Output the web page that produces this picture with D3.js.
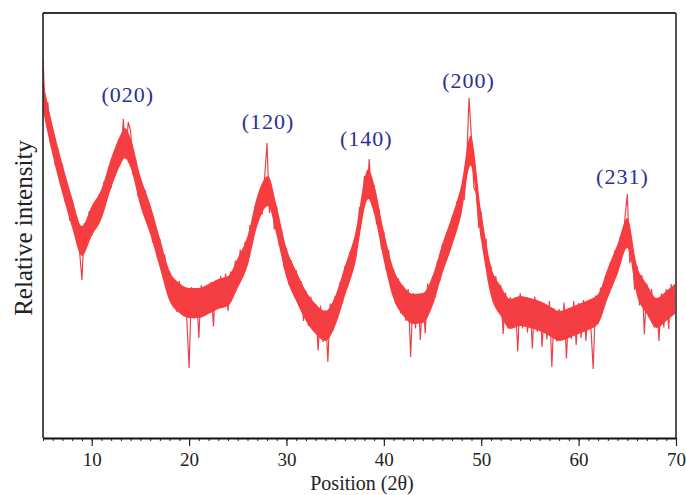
<!DOCTYPE html>
<html>
<head>
<meta charset="utf-8">
<script src="https://cdn.jsdelivr.net/npm/d3@7"></script>
<style>
  html, body { margin: 0; padding: 0; background: #ffffff; }
  svg { display: block; }
</style>
</head>
<body>
<svg id="chart" width="686" height="495"></svg>
<script>
// XRD scan: recorded counts every 0.25 degrees of 2-theta, from 5 to 70
const scanStart = 5;
const scanStep = 0.25;
const scanCounts = [
  760, 640, 672, 590, 616, 545, 582, 513, 548, 473, 502, 435, 476, 412, 442, 374,
  316, 430, 394, 454, 404, 466, 429, 487, 442, 513, 475, 536, 500, 570, 534, 596,
  552, 638, 558, 632, 614, 526, 560, 484, 518, 454, 496, 430, 464, 391, 426, 359,
  398, 330, 367, 295, 334, 268, 318, 252, 314, 250, 300, 246, 140, 302, 238, 300,
  200, 306, 244, 304, 252, 312, 223, 315, 260, 324, 261, 329, 254, 333, 284, 355,
  304, 377, 322, 393, 350, 426, 392, 464, 428, 496, 446, 518, 590, 450, 489, 417,
  464, 385, 418, 341, 380, 307, 355, 286, 336, 264, 314, 234, 294, 224, 283, 215,
  268, 175, 265, 192, 256, 152, 269, 213, 284, 239, 312, 269, 344, 303, 372, 335,
  400, 381, 462, 447, 524, 477, 558, 466, 506, 427, 459, 378, 412, 335, 376, 299,
  338, 268, 319, 249, 304, 234, 298, 162, 290, 219, 289, 196, 290, 209, 309, 256,
  324, 280, 354, 314, 388, 346, 412, 376, 442, 409, 473, 440, 506, 476, 553, 680,
  600, 500, 490, 420, 452, 369, 399, 312, 344, 274, 324, 252, 306, 208, 291, 219,
  282, 220, 281, 173, 290, 219, 282, 211, 280, 179, 283, 212, 274, 182, 269, 197,
  274, 142, 259, 193, 258, 196, 271, 159, 260, 198, 274, 186, 270, 200, 276, 194,
  276, 224, 138, 285, 228, 301, 258, 325, 284, 352, 310, 376, 338, 402, 366, 438,
  488, 350, 370, 296, 344, 265, 326, 207, 308, 241, 298, 221, 280, 194, 289, 221,
  298, 218, 308, 246, 300
];

// Smoothed background-plus-peak profile underneath the noisy scan
const profileTheta = [
  5, 6, 7, 8, 9, 10, 11, 12, 13, 13.4, 14, 15, 16, 17, 18, 19, 20, 21, 22, 23, 24,
  25, 26, 27, 28.1, 29, 30, 31, 32, 33, 34, 35, 36, 37, 38.4, 39, 40, 41, 42, 43,
  44, 45, 46, 47, 48, 48.9, 50, 51, 52, 53, 54, 55, 56, 57, 58, 59, 60, 61, 62,
  63, 64, 65, 66, 67, 68, 69, 70
];
const profileCounts = [
  684, 594, 518, 450, 394, 434, 468, 530, 578, 590, 570, 494, 438, 370, 304, 280,
  270, 270, 278, 288, 294, 330, 374, 454, 494, 434, 350, 304, 264, 238, 224, 254,
  314, 374, 508, 478, 384, 308, 274, 258, 260, 294, 358, 414, 480, 575, 424, 314,
  274, 248, 254, 250, 244, 234, 224, 230, 238, 246, 258, 310, 358, 410, 314, 278,
  250, 264, 280
];

// Miller indices of the reflections and where their labels sit
const peakLabels = ["(020)", "(120)", "(140)", "(200)", "(231)"];
const peakLabelTheta = [13.7, 28.1, 38.2, 48.7, 64.5];
const peakLabelCounts = [672, 618, 584, 700, 508];

const xTicks = [10, 20, 30, 40, 50, 60, 70];
const xMinorTicks = d3.range(5, 71, 1);

const svg = d3.select("#chart");
const plotLeft = 43, plotRight = 676, plotTop = 13, plotBottom = 438;

const x = d3.scaleLinear().domain([5, 70]).range([plotLeft, plotRight]);
const y = d3.scaleLinear().domain([0, 850]).range([plotBottom, plotTop]);

svg.append("defs").append("clipPath").attr("id", "plotClip")
  .append("rect")
  .attr("x", plotLeft).attr("y", plotTop)
  .attr("width", plotRight - plotLeft).attr("height", plotBottom - plotTop);

const plot = svg.append("g").attr("clip-path", "url(#plotClip)");

// Solid core of the noisy band
const profile = profileTheta.map((t, i) => [t, profileCounts[i]]);
const bandHalf = 15;
plot.append("path")
  .datum(profile)
  .attr("fill", "#ff3a3a")
  .attr("d", d3.area()
    .x(d => x(d[0]))
    .y0(d => y(d[1]) + bandHalf)
    .y1(d => y(d[1]) - bandHalf)
    .curve(d3.curveMonotoneX));

// Raw scan trace
const scan = scanCounts.map((c, i) => [scanStart + i * scanStep, c]);
plot.append("path")
  .datum(scan)
  .attr("fill", "none")
  .attr("stroke", "#e8434c")
  .attr("stroke-width", 1.2)
  .attr("stroke-linejoin", "miter")
  .attr("d", d3.line().x(d => x(d[0])).y(d => y(d[1])));

// Frame
svg.append("line").attr("x1", plotLeft).attr("x2", plotRight).attr("y1", plotTop).attr("y2", plotTop)
  .attr("stroke", "#333").attr("stroke-width", 2);
svg.append("line").attr("x1", plotRight).attr("x2", plotRight).attr("y1", plotTop).attr("y2", plotBottom)
  .attr("stroke", "#555").attr("stroke-width", 2);
svg.append("line").attr("x1", plotLeft).attr("x2", plotLeft).attr("y1", plotTop).attr("y2", plotBottom)
  .attr("stroke", "#222").attr("stroke-width", 1.6);

// Bottom axis: minor ticks every degree, major ticks labelled every ten
const minorAxis = d3.axisBottom(x).tickValues(xMinorTicks).tickSize(3).tickSizeOuter(0).tickFormat("");
const gMinor = svg.append("g").attr("transform", `translate(0,${plotBottom})`).call(minorAxis);
gMinor.select(".domain").remove();
gMinor.selectAll(".tick line").attr("stroke", "#222").attr("stroke-width", 1);

const majorAxis = d3.axisBottom(x).tickValues(xTicks).tickSize(8).tickSizeOuter(0).tickPadding(8);
const gMajor = svg.append("g").attr("transform", `translate(0,${plotBottom})`).call(majorAxis);
gMajor.select(".domain").attr("stroke", "#111").attr("stroke-width", 2.2);
gMajor.selectAll(".tick line").attr("stroke", "#222").attr("stroke-width", 1.2);
gMajor.selectAll(".tick text")
  .attr("font-family", "'Liberation Serif', 'Times New Roman', serif")
  .attr("font-size", 19)
  .attr("fill", "#222")
  .attr("dy", "0.62em");

// Axis titles
svg.append("text")
  .attr("x", 362).attr("y", 490)
  .attr("text-anchor", "middle")
  .attr("font-family", "'Liberation Serif', 'Times New Roman', serif")
  .attr("font-size", 20)
  .attr("fill", "#222")
  .text("Position (2θ)");

svg.append("text")
  .attr("transform", "translate(32,228) rotate(-90)")
  .attr("text-anchor", "middle")
  .attr("font-family", "'Liberation Serif', 'Times New Roman', serif")
  .attr("font-size", 25)
  .attr("fill", "#222")
  .text("Relative intensity");

// Reflection labels
svg.append("g").selectAll("text")
  .data(peakLabels)
  .join("text")
  .attr("x", (d, i) => x(peakLabelTheta[i]))
  .attr("y", (d, i) => y(peakLabelCounts[i]))
  .attr("text-anchor", "middle")
  .attr("font-family", "'Liberation Serif', 'Times New Roman', serif")
  .attr("font-size", 22)
  .attr("letter-spacing", 1)
  .attr("fill", "#2e2e98")
  .text(d => d);
</script>
</body>
</html>
